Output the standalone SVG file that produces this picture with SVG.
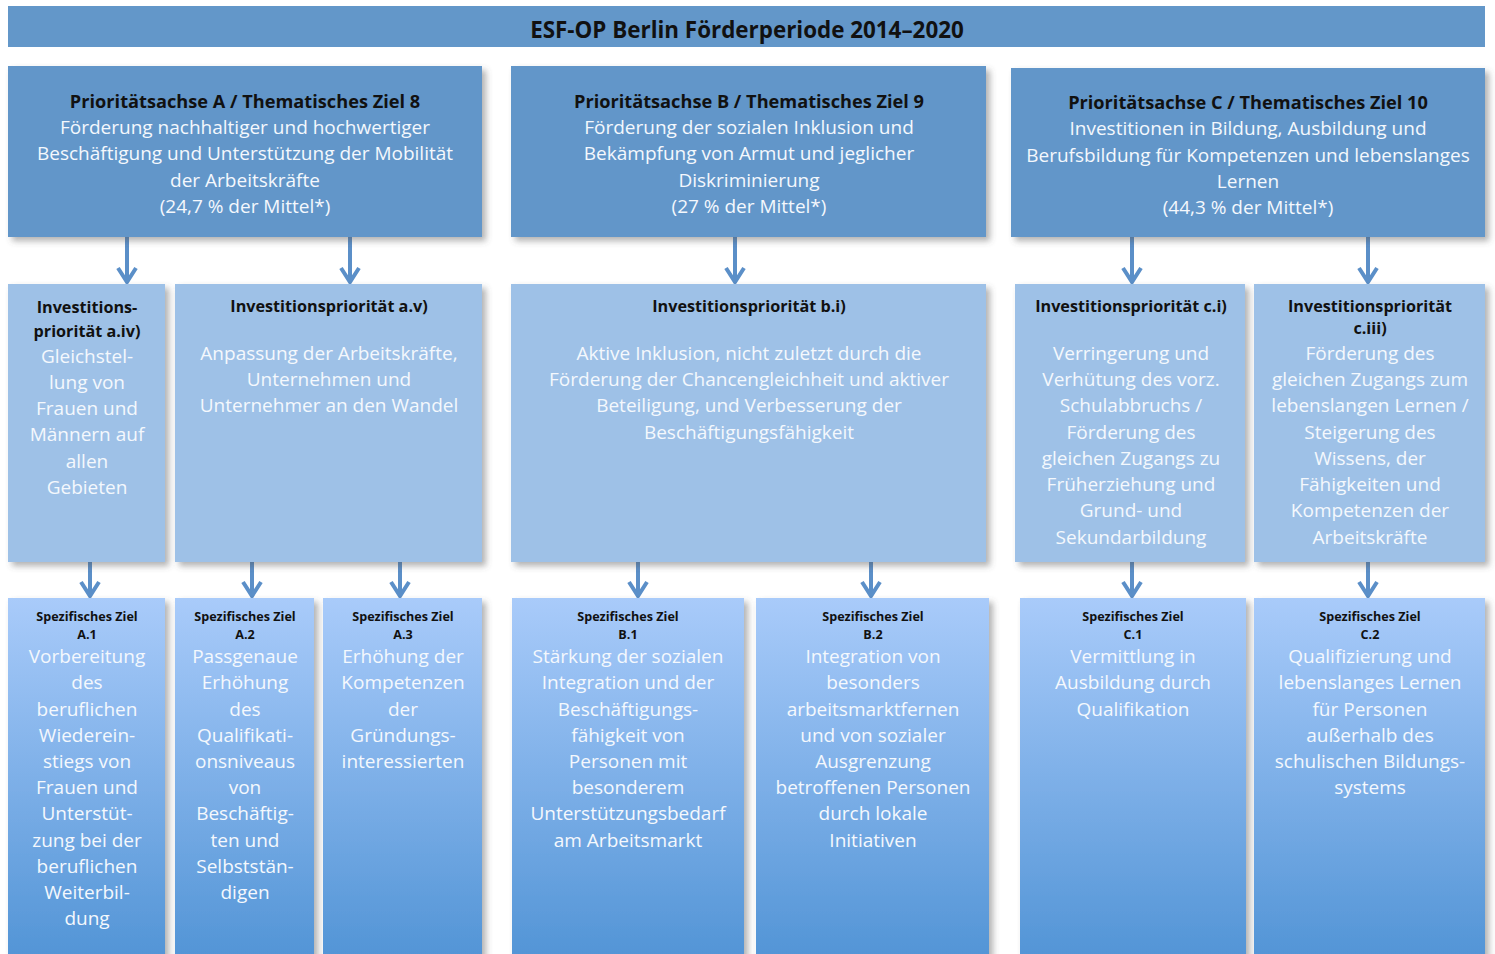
<svg xmlns="http://www.w3.org/2000/svg" width="1495" height="954" viewBox="0 0 1495 954">
<defs>
<style>
.t{font-family:"Open Sans","Liberation Sans",sans-serif;text-anchor:middle}
.title{font-size:22.4px;font-weight:bold;fill:#111}
.h1{font-size:18.2px;font-weight:bold;fill:#111}
.h2{font-size:16.2px;font-weight:bold;fill:#111}
.h3{font-size:12.6px;font-weight:bold;fill:#111}
.b{font-size:19px;fill:#f4f8fd}
.l1{fill:#6296c9}
.l2{fill:#9ec1e7}
.l3{fill:url(#g3)}
.ar{stroke:#5b8fc8;stroke-width:4;fill:none}
</style>
<linearGradient id="g3" x1="0" y1="0" x2="0" y2="1">
<stop offset="0" stop-color="#a9cbfa"/>
<stop offset="1" stop-color="#5093d5"/>
</linearGradient>
<filter id="sh" x="-10%" y="-10%" width="130%" height="130%">
<feDropShadow dx="4" dy="4" stdDeviation="3" flood-color="#555" flood-opacity="0.45"/>
</filter>
<marker id="ah" markerUnits="userSpaceOnUse" markerWidth="24" markerHeight="24" refX="20" refY="12" orient="auto" viewBox="0 0 24 24">
<path d="M6,3 L20,12 L6,21" stroke="#5b8fc8" stroke-width="4" fill="none"/>
</marker>
</defs>
<rect width="1495" height="954" fill="#ffffff"/>

<g id="title">
<rect x="8" y="6" width="1477" height="41" fill="#6397c9"/>
<text class="t title" x="747" y="38">ESF-OP Berlin Förderperiode 2014–2020</text>
</g>

<g id="connectors">
<line class="ar" x1="127" y1="237" x2="127" y2="282" marker-end="url(#ah)"/>
<line class="ar" x1="350" y1="237" x2="350" y2="282" marker-end="url(#ah)"/>
<line class="ar" x1="735" y1="237" x2="735" y2="282" marker-end="url(#ah)"/>
<line class="ar" x1="1132" y1="237" x2="1132" y2="282" marker-end="url(#ah)"/>
<line class="ar" x1="1368" y1="237" x2="1368" y2="282" marker-end="url(#ah)"/>
<line class="ar" x1="90" y1="562" x2="90" y2="596" marker-end="url(#ah)"/>
<line class="ar" x1="252" y1="562" x2="252" y2="596" marker-end="url(#ah)"/>
<line class="ar" x1="400" y1="562" x2="400" y2="596" marker-end="url(#ah)"/>
<line class="ar" x1="638" y1="562" x2="638" y2="596" marker-end="url(#ah)"/>
<line class="ar" x1="871" y1="562" x2="871" y2="596" marker-end="url(#ah)"/>
<line class="ar" x1="1132" y1="562" x2="1132" y2="596" marker-end="url(#ah)"/>
<line class="ar" x1="1368" y1="562" x2="1368" y2="596" marker-end="url(#ah)"/>
</g>

<g id="achseA">
<rect class="l1" x="8" y="66" width="474" height="171" filter="url(#sh)"/>
<text class="t h1" x="245" y="108">Prioritätsachse A / Thematisches Ziel 8</text>
<text class="t b" x="245" y="134">Förderung nachhaltiger und hochwertiger</text>
<text class="t b" x="245" y="160">Beschäftigung und Unterstützung der Mobilität</text>
<text class="t b" x="245" y="186.5">der Arbeitskräfte</text>
<text class="t b" x="245" y="212.5">(24,7 % der Mittel*)</text>
</g>
<g id="achseB">
<rect class="l1" x="511" y="66" width="475" height="171" filter="url(#sh)"/>
<text class="t h1" x="749" y="108">Prioritätsachse B / Thematisches Ziel 9</text>
<text class="t b" x="749" y="134">Förderung der sozialen Inklusion und</text>
<text class="t b" x="749" y="160">Bekämpfung von Armut und jeglicher</text>
<text class="t b" x="749" y="186.5">Diskriminierung</text>
<text class="t b" x="749" y="212.5">(27 % der Mittel*)</text>
</g>
<g id="achseC">
<rect class="l1" x="1011" y="68" width="474" height="169" filter="url(#sh)"/>
<text class="t h1" x="1248" y="109">Prioritätsachse C / Thematisches Ziel 10</text>
<text class="t b" x="1248" y="135">Investitionen in Bildung, Ausbildung und</text>
<text class="t b" x="1248" y="161.5">Berufsbildung für Kompetenzen und lebenslanges</text>
<text class="t b" x="1248" y="187.5">Lernen</text>
<text class="t b" x="1248" y="213.5">(44,3 % der Mittel*)</text>
</g>

<g id="ip-a4">
<rect class="l2" x="8" y="284" width="157" height="278" filter="url(#sh)"/>
<text class="t h2" x="87" y="313">Investitions-</text>
<text class="t h2" x="87" y="337">priorität a.iv)</text>
<text class="t b" x="87" y="363">Gleichstel-</text>
<text class="t b" x="87" y="389">lung von</text>
<text class="t b" x="87" y="415">Frauen und</text>
<text class="t b" x="87" y="441">Männern auf</text>
<text class="t b" x="87" y="468">allen</text>
<text class="t b" x="87" y="494">Gebieten</text>
</g>
<g id="ip-a5">
<rect class="l2" x="175" y="284" width="307" height="278" filter="url(#sh)"/>
<text class="t h2" x="329" y="312">Investitionspriorität a.v)</text>
<text class="t b" x="329" y="360">Anpassung der Arbeitskräfte,</text>
<text class="t b" x="329" y="386">Unternehmen und</text>
<text class="t b" x="329" y="412">Unternehmer an den Wandel</text>
</g>
<g id="ip-b1">
<rect class="l2" x="511" y="284" width="475" height="278" filter="url(#sh)"/>
<text class="t h2" x="749" y="312">Investitionspriorität b.i)</text>
<text class="t b" x="749" y="360">Aktive Inklusion, nicht zuletzt durch die</text>
<text class="t b" x="749" y="386">Förderung der Chancengleichheit und aktiver</text>
<text class="t b" x="749" y="412">Beteiligung, und Verbesserung der</text>
<text class="t b" x="749" y="439">Beschäftigungsfähigkeit</text>
</g>
<g id="ip-c1">
<rect class="l2" x="1015" y="284" width="230" height="278" filter="url(#sh)"/>
<text class="t h2" x="1131" y="312">Investitionspriorität c.i)</text>
<text class="t b" x="1131" y="360">Verringerung und</text>
<text class="t b" x="1131" y="386">Verhütung des vorz.</text>
<text class="t b" x="1131" y="412">Schulabbruchs /</text>
<text class="t b" x="1131" y="439">Förderung des</text>
<text class="t b" x="1131" y="465">gleichen Zugangs zu</text>
<text class="t b" x="1131" y="491">Früherziehung und</text>
<text class="t b" x="1131" y="517">Grund- und</text>
<text class="t b" x="1131" y="544">Sekundarbildung</text>
</g>
<g id="ip-c3">
<rect class="l2" x="1254" y="284" width="231" height="278" filter="url(#sh)"/>
<text class="t h2" x="1370" y="312">Investitionspriorität</text>
<text class="t h2" x="1370" y="334">c.iii)</text>
<text class="t b" x="1370" y="360">Förderung des</text>
<text class="t b" x="1370" y="386">gleichen Zugangs zum</text>
<text class="t b" x="1370" y="412">lebenslangen Lernen /</text>
<text class="t b" x="1370" y="439">Steigerung des</text>
<text class="t b" x="1370" y="465">Wissens, der</text>
<text class="t b" x="1370" y="491">Fähigkeiten und</text>
<text class="t b" x="1370" y="517">Kompetenzen der</text>
<text class="t b" x="1370" y="544">Arbeitskräfte</text>
</g>

<g id="sz-a1">
<rect class="l3" x="8" y="598" width="157" height="370" filter="url(#sh)"/>
<text class="t h3" x="87" y="621">Spezifisches Ziel</text>
<text class="t h3" x="87" y="639">A.1</text>
<text class="t b" x="87" y="663">Vorbereitung</text>
<text class="t b" x="87" y="689">des</text>
<text class="t b" x="87" y="715.5">beruflichen</text>
<text class="t b" x="87" y="741.5">Wiederein-</text>
<text class="t b" x="87" y="768">stiegs von</text>
<text class="t b" x="87" y="794">Frauen und</text>
<text class="t b" x="87" y="820">Unterstüt-</text>
<text class="t b" x="87" y="846.5">zung bei der</text>
<text class="t b" x="87" y="872.5">beruflichen</text>
<text class="t b" x="87" y="899">Weiterbil-</text>
<text class="t b" x="87" y="925">dung</text>
</g>
<g id="sz-a2">
<rect class="l3" x="175" y="598" width="139" height="370" filter="url(#sh)"/>
<text class="t h3" x="245" y="621">Spezifisches Ziel</text>
<text class="t h3" x="245" y="639">A.2</text>
<text class="t b" x="245" y="663">Passgenaue</text>
<text class="t b" x="245" y="689">Erhöhung</text>
<text class="t b" x="245" y="715.5">des</text>
<text class="t b" x="245" y="741.5">Qualifikati-</text>
<text class="t b" x="245" y="768">onsniveaus</text>
<text class="t b" x="245" y="794">von</text>
<text class="t b" x="245" y="820">Beschäftig-</text>
<text class="t b" x="245" y="846.5">ten und</text>
<text class="t b" x="245" y="872.5">Selbststän-</text>
<text class="t b" x="245" y="899">digen</text>
</g>
<g id="sz-a3">
<rect class="l3" x="323" y="598" width="159" height="370" filter="url(#sh)"/>
<text class="t h3" x="403" y="621">Spezifisches Ziel</text>
<text class="t h3" x="403" y="639">A.3</text>
<text class="t b" x="403" y="663">Erhöhung der</text>
<text class="t b" x="403" y="689">Kompetenzen</text>
<text class="t b" x="403" y="715.5">der</text>
<text class="t b" x="403" y="741.5">Gründungs-</text>
<text class="t b" x="403" y="768">interessierten</text>
</g>
<g id="sz-b1">
<rect class="l3" x="512" y="598" width="232" height="370" filter="url(#sh)"/>
<text class="t h3" x="628" y="621">Spezifisches Ziel</text>
<text class="t h3" x="628" y="639">B.1</text>
<text class="t b" x="628" y="663">Stärkung der sozialen</text>
<text class="t b" x="628" y="689">Integration und der</text>
<text class="t b" x="628" y="715.5">Beschäftigungs-</text>
<text class="t b" x="628" y="741.5">fähigkeit von</text>
<text class="t b" x="628" y="768">Personen mit</text>
<text class="t b" x="628" y="794">besonderem</text>
<text class="t b" x="628" y="820">Unterstützungsbedarf</text>
<text class="t b" x="628" y="846.5">am Arbeitsmarkt</text>
</g>
<g id="sz-b2">
<rect class="l3" x="756" y="598" width="233" height="370" filter="url(#sh)"/>
<text class="t h3" x="873" y="621">Spezifisches Ziel</text>
<text class="t h3" x="873" y="639">B.2</text>
<text class="t b" x="873" y="663">Integration von</text>
<text class="t b" x="873" y="689">besonders</text>
<text class="t b" x="873" y="715.5">arbeitsmarktfernen</text>
<text class="t b" x="873" y="741.5">und von sozialer</text>
<text class="t b" x="873" y="768">Ausgrenzung</text>
<text class="t b" x="873" y="794">betroffenen Personen</text>
<text class="t b" x="873" y="820">durch lokale</text>
<text class="t b" x="873" y="846.5">Initiativen</text>
</g>
<g id="sz-c1">
<rect class="l3" x="1020" y="598" width="226" height="370" filter="url(#sh)"/>
<text class="t h3" x="1133" y="621">Spezifisches Ziel</text>
<text class="t h3" x="1133" y="639">C.1</text>
<text class="t b" x="1133" y="663">Vermittlung in</text>
<text class="t b" x="1133" y="689">Ausbildung durch</text>
<text class="t b" x="1133" y="715.5">Qualifikation</text>
</g>
<g id="sz-c2">
<rect class="l3" x="1254" y="598" width="231" height="370" filter="url(#sh)"/>
<text class="t h3" x="1370" y="621">Spezifisches Ziel</text>
<text class="t h3" x="1370" y="639">C.2</text>
<text class="t b" x="1370" y="663">Qualifizierung und</text>
<text class="t b" x="1370" y="689">lebenslanges Lernen</text>
<text class="t b" x="1370" y="715.5">für Personen</text>
<text class="t b" x="1370" y="741.5">außerhalb des</text>
<text class="t b" x="1370" y="768">schulischen Bildungs-</text>
<text class="t b" x="1370" y="794">systems</text>
</g>
</svg>
